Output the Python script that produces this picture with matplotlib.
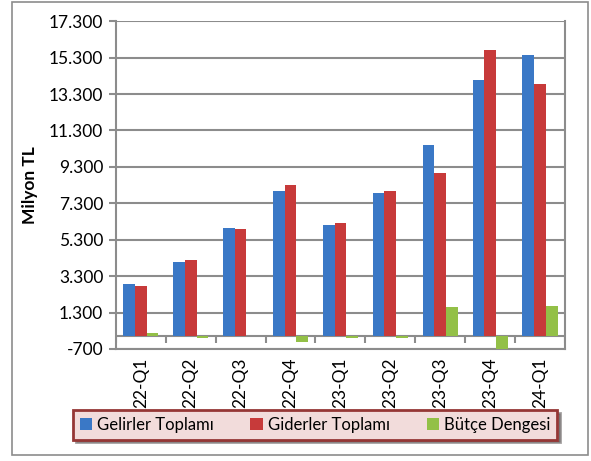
import numpy as np
import matplotlib.pyplot as plt
from matplotlib.ticker import FuncFormatter
from matplotlib.patches import Rectangle

plt.rcParams['font.family'] = ['Lato', 'DejaVu Sans']

# Data (Milyon TL)
quarters = ["22-Q1", "22-Q2", "22-Q3", "22-Q4", "23-Q1", "23-Q2", "23-Q3", "23-Q4", "24-Q1"]
gelirler = [2850, 4050, 5920, 7950, 6090, 7840, 10480, 14060, 15440]
giderler = [2740, 4160, 5870, 8290, 6200, 8000, 8940, 15710, 13840]
denge = [190, -70, 40, -300, -100, -120, 1630, -750, 1680]

fig = plt.figure(figsize=(5.91, 4.61), dpi=100)
ax = fig.add_axes([0.196, 0.243, 0.760, 0.711])

x = np.arange(len(quarters))
w = 0.235
ax.bar(x - w, gelirler, w, color='#3a78c6', label='Gelirler Toplamı', zorder=3)
ax.bar(x, giderler, w, color='#c73a3a', label='Giderler Toplamı', zorder=3)
ax.bar(x + w, denge, w, color='#93c047', label='Bütçe Dengesi', zorder=3)

ax.set_xlim(-0.5, len(quarters) - 0.5)
ax.set_ylim(-700, 17300)
ax.set_yticks(np.arange(-700, 17301, 2000))
ax.yaxis.set_major_formatter(FuncFormatter(lambda v, p: f"{int(v):,}".replace(',', '.')))
ax.grid(axis='y', color='#8c8c8c', lw=1.5, zorder=0)
ax.tick_params(axis='y', length=5, color='#8c8c8c', width=1.5, labelsize=12.5, pad=4)

# category labels below the plot, ticks at the zero line
ax.set_xticks(x)
ax.set_xticklabels(quarters, rotation=90, fontsize=12.5)
ax.tick_params(axis='x', length=0, pad=6)
ax.axhline(0, color='#8c8c8c', lw=1.5, zorder=2)
ax.vlines(np.arange(len(quarters) + 1) - 0.5, -350, 0, color='#8c8c8c', lw=1.5, zorder=2)

for s in ['left', 'right', 'bottom']:
    ax.spines[s].set_color('#8c8c8c')
    ax.spines[s].set_linewidth(1.5)
ax.spines['top'].set_visible(False)

ax.set_ylabel('Milyon TL', fontsize=12.5, fontweight='bold', labelpad=8)

leg = fig.legend(loc='center', bbox_to_anchor=(0.533, 0.078), ncol=3, fontsize=12,
                 frameon=True, fancybox=False, shadow=True, handlelength=0.75,
                 handleheight=0.75, handletextpad=0.3, columnspacing=2.2,
                 borderpad=0.4, borderaxespad=0)
leg.get_frame().set_facecolor('#f2dcdb')
leg.get_frame().set_edgecolor('#953735')
leg.get_frame().set_linewidth(2)
leg.get_frame().set_alpha(1)

fig.patches.append(Rectangle((0.02, 0.012), 0.975, 0.983, transform=fig.transFigure,
                             fill=False, edgecolor='#8c8c8c', lw=1.2))

fig.savefig('out.png', dpi=100)
